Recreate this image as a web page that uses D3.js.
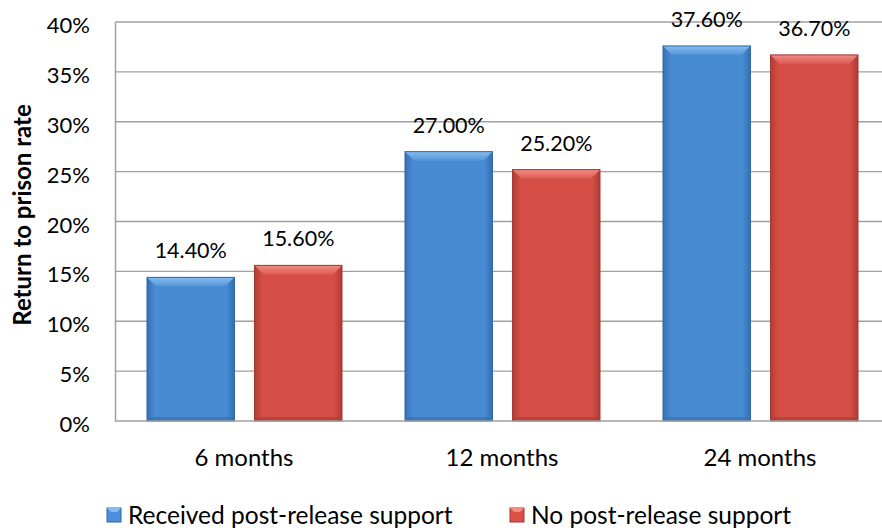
<!DOCTYPE html>
<html>
<head>
<meta charset="utf-8">
<script src="https://cdn.jsdelivr.net/npm/d3@7"></script>
<style>
  html, body { margin: 0; padding: 0; background: #fff; overflow: hidden; }
  text { font-family: Lato, "Open Sans", sans-serif; fill: #000; }
</style>
</head>
<body>
<div id="hook-chart"></div>
<script>
'use strict';

var categories = ['6 months', '12 months', '24 months'];
var seriesNames = ['Received post-release support', 'No post-release support'];
var received = [14.4, 27.0, 37.6];
var noSupport = [15.6, 25.2, 36.7];
var yTicks = [0, 5, 10, 15, 20, 25, 30, 35, 40];

var options = {
  width: 882,
  height: 532,
  left: 115,
  right: 889,
  top: 22,
  bottom: 421
};

var colors = [
  { base: '#4a8fd8', light: '#86bdf0', dark: '#2f67a6' },
  { base: '#db5148', light: '#f28c84', dark: '#a23630' }
];

function update(options) {
  var svg = d3.select('#hook-chart')
    .append('svg')
    .attr('width', options.width)
    .attr('height', options.height);

  var defs = svg.append('defs');
  colors.forEach(function(c, i) {
    var g = defs.append('linearGradient')
      .attr('id', 'side-' + i)
      .attr('x1', 0).attr('x2', 1).attr('y1', 0).attr('y2', 0);
    g.append('stop').attr('offset', '0%').attr('stop-color', c.dark).attr('stop-opacity', 0.75);
    g.append('stop').attr('offset', '9%').attr('stop-color', c.dark).attr('stop-opacity', 0.1);
    g.append('stop').attr('offset', '91%').attr('stop-color', c.dark).attr('stop-opacity', 0.1);
    g.append('stop').attr('offset', '100%').attr('stop-color', c.dark).attr('stop-opacity', 0.8);
    var v = defs.append('linearGradient')
      .attr('id', 'top-' + i)
      .attr('x1', 0).attr('x2', 0).attr('y1', 0).attr('y2', 1);
    v.append('stop').attr('offset', '0%').attr('stop-color', c.light).attr('stop-opacity', 1);
    v.append('stop').attr('offset', '100%').attr('stop-color', c.light).attr('stop-opacity', 0.2);
  });

  var y = d3.scaleLinear().domain([0, 40]).range([options.bottom, options.top]);
  var x0 = d3.scaleBand().domain(categories).range([options.left, options.right]);
  var x1 = d3.scaleBand().domain(seriesNames)
    .range([32, x0.bandwidth() - 31]).paddingInner(0.187);

  // gridlines
  svg.append('g').selectAll('line')
    .data(yTicks.slice(1))
    .enter().append('line')
    .attr('x1', options.left).attr('x2', options.right)
    .attr('y1', function(d) { return y(d); })
    .attr('y2', function(d) { return y(d); })
    .style('stroke', '#a0a0a0')
    .style('stroke-width', 1.3);

  // y axis
  var yAxis = svg.append('g')
    .attr('transform', 'translate(' + options.left + ',0)')
    .call(d3.axisLeft(y).tickValues(yTicks).tickSize(0).tickPadding(25)
      .tickFormat(function(d) { return d + '%'; }));
  yAxis.select('.domain').style('stroke', '#a0a0a0').style('stroke-width', 1.5);
  yAxis.selectAll('text')
    .style('font-family', 'Lato, sans-serif')
    .style('font-size', '22px')
    .attr('dy', '0.48em');

  svg.append('text')
    .attr('transform', 'translate(31,215) rotate(-90)')
    .attr('text-anchor', 'middle')
    .style('font-size', '24px')
    .style('font-weight', 'bold')
    .text('Return to prison rate');

  // bars
  var rows = [];
  categories.forEach(function(c, ci) {
    [received, noSupport].forEach(function(vals, si) {
      rows.push({ cat: c, series: seriesNames[si], si: si, value: vals[ci] });
    });
  });

  var bars = svg.append('g').selectAll('g')
    .data(rows)
    .enter().append('g')
    .attr('transform', function(d) {
      return 'translate(' + (x0(d.cat) + x1(d.series)) + ',0)';
    });

  var bw = x1.bandwidth();
  var bev = 9;

  bars.append('rect')
    .attr('x', 0)
    .attr('y', function(d) { return y(d.value); })
    .attr('width', bw)
    .attr('height', function(d) { return y(0) - y(d.value); })
    .style('fill', function(d) { return colors[d.si].base; });

  bars.append('rect')
    .attr('x', 0)
    .attr('y', function(d) { return y(d.value); })
    .attr('width', bw)
    .attr('height', function(d) { return y(0) - y(d.value); })
    .style('fill', function(d) { return 'url(#side-' + d.si + ')'; });

  // top bevel highlight
  bars.append('path')
    .attr('d', function(d) {
      var t = y(d.value);
      return 'M0,' + t + 'L' + bw + ',' + t + 'L' + (bw - bev) + ',' + (t + bev) +
        'L' + bev + ',' + (t + bev) + 'Z';
    })
    .style('fill', function(d) { return 'url(#top-' + d.si + ')'; });

  // bottom bevel shade
  bars.append('path')
    .attr('d', function(d) {
      var b = y(0);
      return 'M0,' + b + 'L' + bw + ',' + b + 'L' + (bw - 4) + ',' + (b - 4) +
        'L4,' + (b - 4) + 'Z';
    })
    .style('fill', function(d) { return colors[d.si].dark; })
    .style('opacity', 0.5);

  bars.append('rect')
    .attr('x', 0)
    .attr('y', function(d) { return y(d.value); })
    .attr('width', bw)
    .attr('height', function(d) { return y(0) - y(d.value); })
    .style('fill', 'none')
    .style('stroke', function(d) { return colors[d.si].dark; })
    .style('stroke-width', 1);

  bars.append('text')
    .attr('x', bw / 2)
    .attr('y', function(d) { return y(d.value) - 19; })
    .attr('text-anchor', 'middle')
    .style('font-size', '21.5px')
    .text(function(d) { return d.value.toFixed(2) + '%'; });

  // baseline
  svg.append('line')
    .attr('x1', options.left).attr('x2', options.right)
    .attr('y1', y(0)).attr('y2', y(0))
    .style('stroke', '#a0a0a0')
    .style('stroke-width', 1.5);

  // x axis labels
  svg.append('g').selectAll('text')
    .data(categories)
    .enter().append('text')
    .attr('x', function(d) { return x0(d) + x0.bandwidth() / 2; })
    .attr('y', 466)
    .attr('text-anchor', 'middle')
    .style('font-size', '24px')
    .text(function(d) { return d; });

  // legend
  var legendX = [107, 510];
  var legend = svg.append('g').selectAll('g')
    .data(seriesNames)
    .enter().append('g')
    .attr('transform', function(d, i) { return 'translate(' + legendX[i] + ',508)'; });

  legend.append('rect')
    .attr('width', 14).attr('height', 14)
    .style('fill', function(d, i) { return colors[i].base; })
    .style('stroke', function(d, i) { return colors[i].dark; })
    .style('stroke-width', 1);
  legend.append('path')
    .attr('d', 'M0,0L14,0L10,4L4,4Z')
    .style('fill', function(d, i) { return colors[i].light; });

  legend.append('text')
    .attr('x', 21)
    .attr('y', 16)
    .style('font-size', '24.5px')
    .text(function(d) { return d; });
}

update(options);
</script>
</body>
</html>
